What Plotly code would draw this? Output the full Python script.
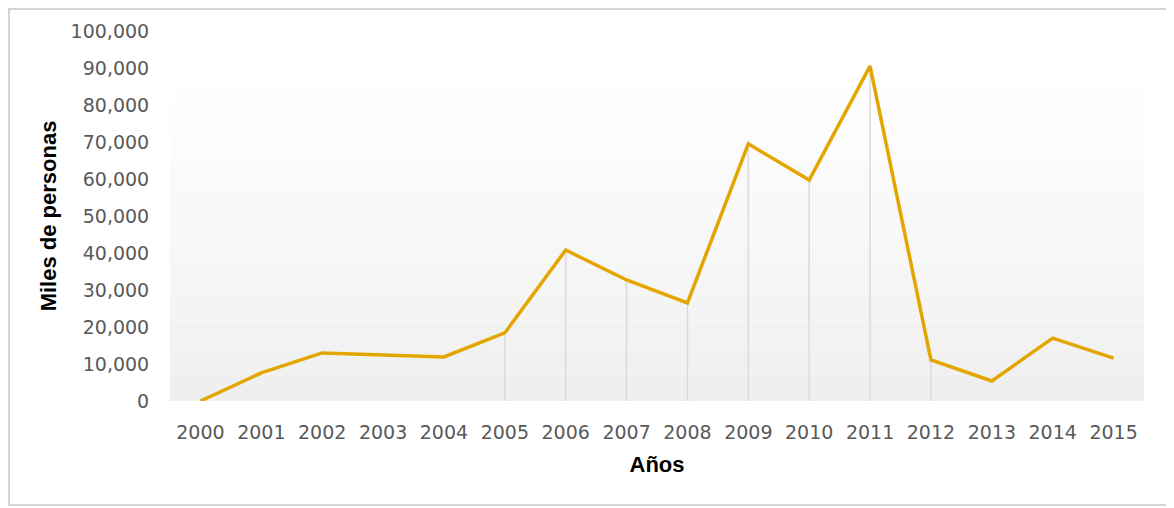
import plotly.graph_objects as go

years = [str(y) for y in range(2000, 2016)]
values = [0, 7600, 13000, 12400, 11900, 18400, 40800, 32700, 26500, 69500, 59700, 90500, 11100, 5400, 17000, 11600]
y_ticks = list(range(0, 100001, 10000))
y_ticklabels = [f"{v:,}" for v in y_ticks]
drop_idx = list(range(5, 13))

W, H = 1166, 500  # page body has an 8px margin inside the 1174x508 window

fig = go.Figure()

# subtle vertical gradient background (white top -> light gray bottom)
bands = 14
for i in range(bands):
    g = 255 - int(16 * (i / (bands - 1)) ** 1.2)
    fig.add_shape(type="rect", xref="paper", yref="paper",
                  x0=0, x1=1, y0=1 - (i + 1) / bands, y1=1 - i / bands,
                  fillcolor=f"rgb({g},{g},{g})", line_width=0, layer="below")

# main series first so category order is set by it
fig.add_trace(go.Scatter(
    x=years, y=values, mode="lines",
    line=dict(color="#E3A600", width=3.5),
    hoverinfo="x+y", showlegend=False,
))

# faint vertical drop lines seen in the reference
for i in drop_idx:
    fig.add_trace(go.Scatter(
        x=[years[i], years[i]], y=[0, values[i]], mode="lines",
        line=dict(color="#dadada", width=1.5),
        hoverinfo="skip", showlegend=False,
    ))

# keep the main line on top
fig.data = fig.data[1:] + fig.data[:1]

l, r, t, b = 162, 30, 23, 107
pw, ph = W - l - r, H - t - b
# outer light-gray frame
fig.add_shape(type="rect", xref="paper", yref="paper",
              x0=(1 - l) / pw, x1=(W - 2 - l) / pw,
              y0=-(b - 3) / ph, y1=1 + (t - 1) / ph,
              line=dict(color="#d4d4d4", width=2), fillcolor="rgba(0,0,0,0)")

fig.update_layout(
    width=W, height=H,
    margin=dict(l=l, r=r, t=t, b=b),
    paper_bgcolor="white",
    plot_bgcolor="rgba(0,0,0,0)",
    font=dict(family="DejaVu Sans", size=19, color="#595959"),
    xaxis=dict(
        type="category", categoryorder="array", categoryarray=years,
        range=[-0.5, 15.5],
        showgrid=False, zeroline=False, showline=False,
        ticks="outside", ticklen=14, tickcolor="rgba(0,0,0,0)",
        tickfont=dict(size=19, color="#595959"),
        title=dict(text="Años", font=dict(family="Liberation Sans", size=22, color="black", weight="bold"), standoff=14),
    ),
    yaxis=dict(
        range=[0, 100000], tickvals=y_ticks, ticktext=y_ticklabels,
        showgrid=False, zeroline=False, showline=False,
        ticks="outside", ticklen=16, tickcolor="rgba(0,0,0,0)",
        tickfont=dict(size=19, color="#595959"),
        title=dict(text="Miles de personas", font=dict(family="Liberation Sans", size=22, color="black", weight="bold"), standoff=7),
    ),
)

fig.write_html("out.html")
